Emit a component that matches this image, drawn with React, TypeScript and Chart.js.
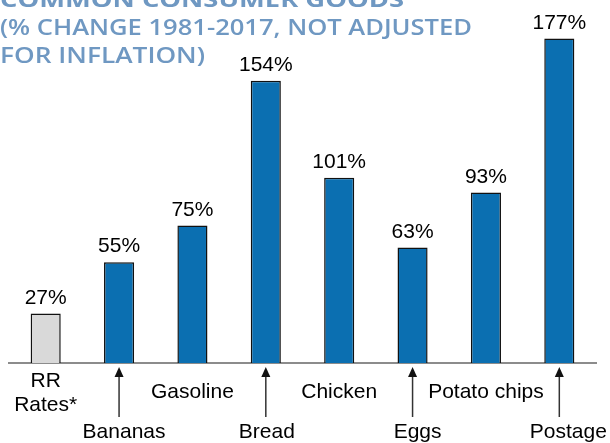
import React, { useEffect, useRef } from "react";
import { Chart, registerables } from "chart.js";

Chart.register(...registerables);

const categories = ["RR Rates*", "Bananas", "Gasoline", "Bread", "Chicken", "Eggs", "Potato chips", "Postage"];
const labelLines = [["RR", "Rates*"], ["Bananas"], ["Gasoline"], ["Bread"], ["Chicken"], ["Eggs"], ["Potato chips"], ["Postage"]];
const pctChange = [27, 55, 75, 154, 101, 63, 93, 177];
const barColors = ["#d9d9d9", "#0b6fb1", "#0b6fb1", "#0b6fb1", "#0b6fb1", "#0b6fb1", "#0b6fb1", "#0b6fb1"];
const titleLines = ["COMMON CONSUMER GOODS", "(% CHANGE 1981-2017, NOT ADJUSTED", "FOR INFLATION)"];

const FONT = "'Liberation Sans', Arial, Helvetica, sans-serif";

const annotate = {
  id: "annotate",
  afterDraw(chart: any) {
    const ctx: CanvasRenderingContext2D = chart.ctx;
    const meta = chart.getDatasetMeta(0);
    const xs = chart.scales.x;
    const labelShift = [0, 5, 0, 1, 0, 5, 0, 9];
    ctx.save();

    // title
    const titleColor = "#6f98c2";
    const titleSpec = [
      { font: `bold 21px 'Open Sans', sans-serif`, y: 7, right: 404 },
      { font: `600 21px 'Open Sans', sans-serif`, y: 35, right: 472 },
      { font: `600 21px 'Open Sans', sans-serif`, y: 63, right: 205 },
    ];
    ctx.fillStyle = titleColor;
    ctx.textAlign = "left";
    ctx.textBaseline = "alphabetic";
    titleLines.forEach((t, i) => {
      const s = titleSpec[i];
      ctx.font = s.font;
      const w = ctx.measureText(t).width;
      const k = s.right / w;
      ctx.save();
      ctx.translate(0, s.y);
      ctx.scale(k, 1);
      ctx.fillText(t, 0, 0);
      ctx.restore();
    });

    // value labels
    ctx.font = `21px ${FONT}`;
    ctx.fillStyle = "#000";
    ctx.textAlign = "center";
    meta.data.forEach((bar: any, i: number) => {
      ctx.fillText(pctChange[i] + "%", bar.x, bar.y - 10);
    });

    // category labels
    categories.forEach((_c, i) => {
      const x = xs.getPixelForValue(i);
      const lines = labelLines[i];
      ctx.fillStyle = "#000";
      if (i % 2 === 0) {
        if (lines.length === 2) {
          ctx.fillText(lines[0], x, 387);
          ctx.fillText(lines[1], x, 411);
        } else {
          ctx.fillText(lines[0], x, 398);
        }
      } else {
        ctx.strokeStyle = "#333";
        ctx.lineWidth = 1.5;
        ctx.beginPath();
        ctx.moveTo(x, 417);
        ctx.lineTo(x, 375);
        ctx.stroke();
        ctx.fillStyle = "#111";
        ctx.beginPath();
        ctx.moveTo(x, 367);
        ctx.lineTo(x - 4.5, 377);
        ctx.lineTo(x + 4.5, 377);
        ctx.closePath();
        ctx.fill();
        ctx.fillStyle = "#000";
        ctx.fillText(lines[0], x + labelShift[i], 438);
      }
    });
    ctx.restore();
  },
};

export default function App() {
  const ref = useRef<HTMLCanvasElement>(null);
  useEffect(() => {
    document.body.style.margin = "0";
    const chart = new Chart(ref.current as HTMLCanvasElement, {
      type: "bar",
      data: {
        labels: categories,
        datasets: [
          {
            data: pctChange,
            backgroundColor: barColors,
            borderColor: "#111",
            borderWidth: 1.5,
            barPercentage: 0.41,
            categoryPercentage: 1,
          },
        ],
      },
      options: {
        responsive: false,
        animation: false,
        layout: { padding: { left: 9, right: 14, top: 0, bottom: 80 } },
        plugins: { legend: { display: false }, tooltip: { enabled: false } },
        scales: {
          x: {
            grid: { display: false, drawTicks: false },
            ticks: { display: false },
            border: { display: true, color: "#8c8c8c", width: 2 },
          },
          y: { display: false, min: 0, max: 198 },
        },
      },
      plugins: [annotate],
    });
    return () => chart.destroy();
  }, []);
  return (
    <div style={{ position: "absolute", left: 0, top: 0, width: 610, height: 443 }}>
      <canvas ref={ref} width={610} height={443} />
    </div>
  );
}
